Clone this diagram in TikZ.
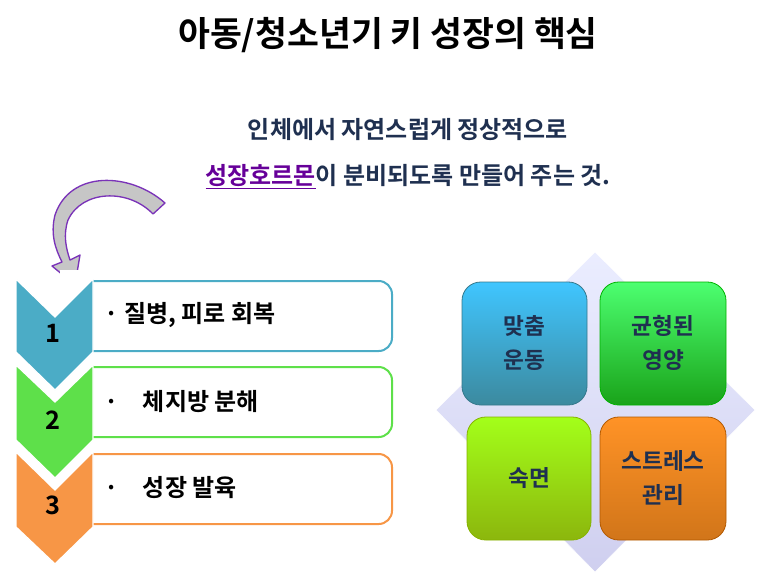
\documentclass[tikz,border=0pt]{standalone}
\usepackage{fontspec}
\setmainfont{Noto Sans CJK KR}[BoldFont={* Bold}]
\newfontfamily\kr{Noto Sans CJK KR Bold}
\usetikzlibrary{shapes.geometric}
\definecolor{navy}{HTML}{1F3050}
\definecolor{cb}{HTML}{4BACC6}
\definecolor{cg}{HTML}{5EE04A}
\definecolor{co}{HTML}{F79646}
\tikzset{
 chev/.style={draw=white,line width=1pt},
 item/.style={draw=#1,line width=1.5pt,rounded corners=10pt,fill=white},
 itxt/.style={anchor=west,font=\kr\fontsize{18}{20}\selectfont},
 num/.style={font=\kr\fontsize{19}{20}\selectfont},
 sq/.style={rounded corners=14pt,draw=#1!70!black,line width=0.6pt},
 sqt/.style={font=\kr\fontsize{17}{26}\selectfont,text=navy,align=center}
}
\begin{document}
\begin{tikzpicture}[x=0.75pt,y=-0.75pt]
\useasboundingbox (0,0) rectangle (773,586);
\node (title) at (388,35) {\kr\fontsize{26}{30}\selectfont 아동/청소년기 키 성장의 핵심};
\node[text=navy] (l1) at (408,130) {\kr\fontsize{18}{20}\selectfont 인체에서 자연스럽게 정상적으로};
\node[text=navy] (l2) at (408,177) {\kr\fontsize{18}{20}\selectfont \textcolor{violet!80!blue}{\underline{성장호르몬}}이 분비되도록 만들어 주는 것.};
% curved arrow
\draw[draw=violet!70!blue!80!white,fill=gray!45,line width=1pt,line join=round]
 (165,203) .. controls (130,172) and (70,170) .. (55,215)
 .. controls (50,235) and (56,250) .. (62,262)
 -- (52,266) -- (75,285) -- (80,255) -- (70,260)
 .. controls (66,248) and (63,235) .. (68,220)
 .. controls (82,190) and (128,188) .. (153,214) -- cycle;
% items
\draw[item=cb] (80,281) rectangle (392,351);
\draw[item=cg] (80,367) rectangle (392,437);
\draw[item=co] (80,454) rectangle (392,524);
\fill[white] (60,270) rectangle (93,570);
\fill[chev,fill=co] (16,452) -- (55,490) -- (93,452) -- (93,527) -- (55,564) -- (16,527) -- cycle;
\fill[chev,fill=cg] (16,365) -- (55,402) -- (93,365) -- (93,440) -- (55,478) -- (16,440) -- cycle;
\fill[chev,fill=cb] (16,279) -- (55,317) -- (93,279) -- (93,352) -- (55,390) -- (16,352) -- cycle;
\node[num] (n1) at (53,333) {1};
\node[num] (n2) at (53,420) {2};
\node[num] (n3) at (53,505) {3};
\node[itxt] (t1) at (100,315) {·\ 질병, 피로 회복};
\node[itxt] (t2) at (100,402) {·\quad 체지방 분해};
\node[itxt] (t3) at (100,488) {·\quad 성장 발육};
% diamond
\shade[top color=cyan!12!blue!8,bottom color=gray!50!blue!25,draw=white]
 (595,252) -- (755,410) -- (595,572) -- (436,410) -- cycle;
\shade[sq=cb,top color=cyan!70!blue!75!white,bottom color=cb!80!black] (462,282) rectangle (587,405);
\shade[sq=green,top color=green!80!cyan!70!white,bottom color=green!60!black!90] (600,282) rectangle (726,405);
\shade[sq=lime,top color=lime!80!green!90,bottom color=lime!70!black!95] (467,417) rectangle (591,540);
\shade[sq=orange,top color=orange!85,bottom color=orange!80!black!90] (600,417) rectangle (726,540);
\node[sqt] (s1) at (524,343) {맞춤\\운동};
\node[sqt] (s2) at (663,343) {균형된\\영양};
\node[sqt] (s3) at (529,478) {숙면};
\node[sqt] (s4) at (663,478) {스트레스\\관리};
\end{tikzpicture}
\end{document}
